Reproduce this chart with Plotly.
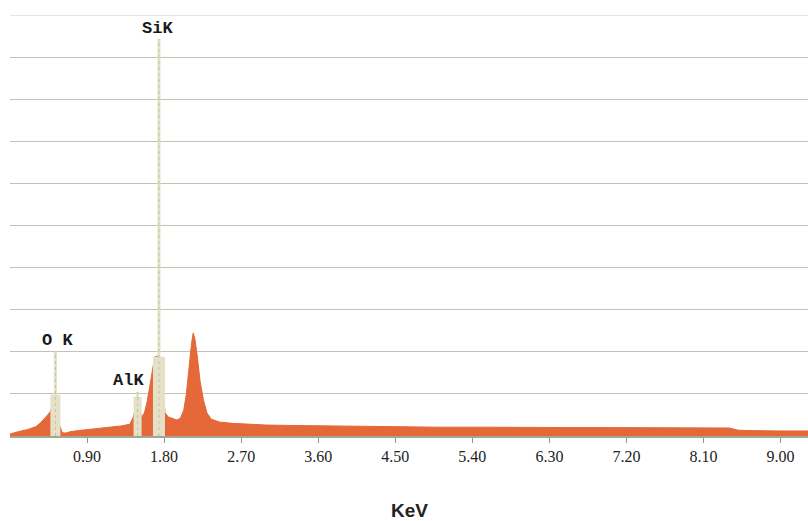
import plotly.graph_objects as go

# Spectrum (energy in keV, counts in grid units)
energy = [0.00, 0.05, 0.10, 0.15, 0.20, 0.25, 0.30, 0.35, 0.40, 0.44, 0.47, 0.50, 0.53, 0.56, 0.58, 0.61, 0.65, 0.70,
          0.80, 0.90, 1.00, 1.10, 1.20, 1.30, 1.40, 1.44, 1.48, 1.52, 1.54, 1.57, 1.60, 1.63, 1.66, 1.69, 1.72, 1.75,
          1.78, 1.81, 1.85, 1.90, 1.95, 1.99, 2.03, 2.06, 2.09, 2.12, 2.14, 2.16, 2.19, 2.22, 2.26, 2.30, 2.35, 2.45,
          2.60, 2.80, 3.00, 3.30, 3.60, 4.00, 4.50, 5.00, 5.50, 6.00, 6.50, 7.00, 7.50, 8.00, 8.40, 8.50, 8.60, 9.00, 9.32]
counts = [0.05, 0.08, 0.10, 0.13, 0.15, 0.18, 0.22, 0.30, 0.40, 0.50, 0.58, 0.70, 0.74, 0.60, 0.25, 0.08, 0.07, 0.10,
          0.13, 0.15, 0.17, 0.19, 0.21, 0.24, 0.28, 0.45, 0.80, 0.55, 0.45, 0.55, 0.80, 1.15, 1.55, 1.88, 1.90, 1.88,
          1.50, 0.55, 0.45, 0.42, 0.38, 0.42, 0.62, 1.00, 1.65, 2.20, 2.45, 2.30, 1.85, 1.30, 0.85, 0.55, 0.40, 0.33,
          0.30, 0.28, 0.26, 0.25, 0.24, 0.23, 0.22, 0.21, 0.21, 0.20, 0.20, 0.20, 0.20, 0.19, 0.19, 0.14, 0.13, 0.12, 0.12]

# Characteristic line markers
elements = ["O K", "AlK", "SiK"]
line_energy = [0.53, 1.49, 1.74]
line_height = [2.00, 1.05, 9.43]
column_height = [0.98, 0.93, 1.88]
label_x = [0.56, 1.38, 1.72]
label_y = [2.26, 1.31, 9.69]

tick_vals = [0.90, 1.80, 2.70, 3.60, 4.50, 5.40, 6.30, 7.20, 8.10, 9.00]
tick_text = ["0.90", "1.80", "2.70", "3.60", "4.50", "5.40", "6.30", "7.20", "8.10", "9.00"]

ORANGE = "rgb(228,104,56)"
PALE = "rgb(228,225,198)"
column_px = [10, 8, 12]

fig = go.Figure()
fig.add_trace(go.Scatter(x=energy, y=counts, mode="lines", fill="tozeroy",
                         line=dict(color=ORANGE, width=1), fillcolor=ORANGE, hoverinfo="skip"))
for e, h, ch, w in zip(line_energy, line_height, column_height, column_px):
    fig.add_trace(go.Scatter(x=[e, e], y=[0, ch], mode="lines",
                             line=dict(color=PALE, width=w), hoverinfo="skip"))
    fig.add_trace(go.Scatter(x=[e, e], y=[0, h], mode="lines",
                             line=dict(color=PALE, width=3), hoverinfo="skip"))
    fig.add_trace(go.Scatter(x=[e, e], y=[0, h], mode="lines",
                             line=dict(color="rgb(195,193,170)", width=1, dash="dot"), hoverinfo="skip"))

for name, x, y in zip(elements, label_x, label_y):
    fig.add_annotation(x=x, y=y, text="<b>" + name + "</b>", showarrow=False,
                       font=dict(family="Liberation Mono", size=17, color="#1a1a1a"),
                       xanchor="center", yanchor="middle")

fig.add_annotation(x=0.5, y=-0.178, xref="paper", yref="paper", text="<b>KeV</b>",
                   showarrow=False, font=dict(family="Liberation Sans", size=19, color="#222"),
                   xanchor="center", yanchor="middle")

# top gridline at the upper edge of the plot area
fig.add_shape(type="line", xref="paper", yref="y", x0=0, x1=1, y0=10, y1=10,
              line=dict(color="rgb(205,205,170)", width=1))

fig.update_layout(
    width=808, height=521, margin=dict(l=10, r=0, t=15, b=85),
    paper_bgcolor="white", plot_bgcolor="white", showlegend=False,
    xaxis=dict(range=[0.0, 9.32], tickvals=tick_vals, ticktext=tick_text, ticks="outside",
               ticklen=5, tickcolor="rgb(150,150,140)", showgrid=False, zeroline=False,
               showline=True, linecolor="rgb(165,165,150)", linewidth=2,
               tickfont=dict(family="Liberation Serif", size=16, color="#222")),
    yaxis=dict(range=[0, 10], dtick=1, showgrid=True, gridcolor="rgb(195,195,180)", gridwidth=1,
               showticklabels=False, zeroline=False, showline=False, ticks=""),
)

fig.write_html("out.html")
